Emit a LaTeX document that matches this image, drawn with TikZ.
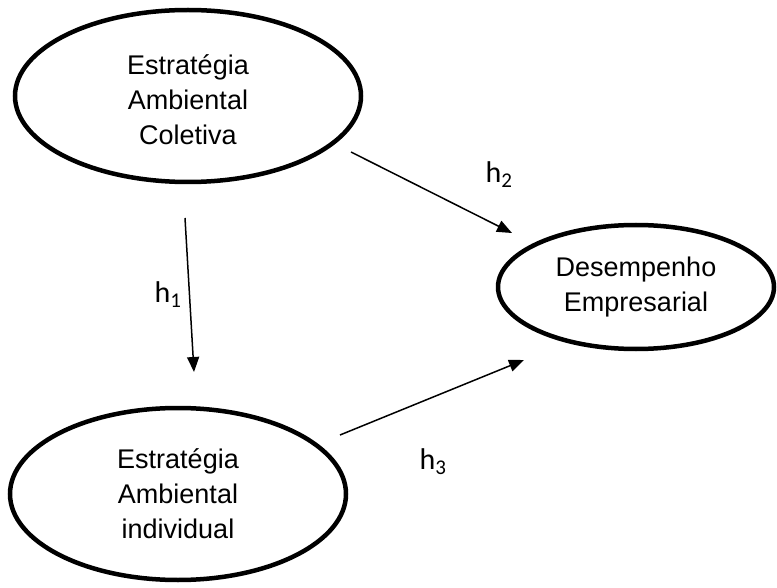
\documentclass[tikz,border=0pt]{standalone}
\usepackage{fontspec}
\setmainfont{Liberation Sans}
\newfontfamily\hfont{Carlito}
\usetikzlibrary{shapes.geometric, arrows.meta, positioning}

\tikzset{
  construct/.style={draw, ellipse, line width=4.5pt, align=center, inner sep=0pt,
    font=\fontsize{27}{35}\selectfont},
  path/.style={line width=1.5pt, -{Triangle[length=15pt, width=12pt]}},
  hyp/.style={font=\hfont\fontsize{30}{32}\selectfont}
}

\begin{document}
\begin{tikzpicture}[x=1pt, y=-1pt]
        \useasboundingbox (0,0) rectangle (777,588);

        % constructs
        \node[construct, minimum width=346pt, minimum height=172pt] (eac) at (188, 96) {\\[-8pt]Estratégia\\Ambiental\\Coletiva};
        \node[construct, minimum width=276pt, minimum height=124pt] (de) at (636, 287) {Desempenho\\Empresarial};
        \node[construct, minimum width=336pt, minimum height=172pt] (eai) at (178, 494) {Estratégia\\Ambiental\\individual};

        % arrow ends
        \coordinate (h1s) at (185, 218);
        \coordinate (h1e) at (194, 372);
        \coordinate (h2s) at (351, 152);
        \coordinate (h2e) at (512, 233);
        \coordinate (h3s) at (340, 435);
        \coordinate (h3e) at (524, 360);

        \draw[path] (h1s) -- (h1e);
        \draw[path] (h2s) -- (h2e);
        \draw[path] (h3s) -- (h3e);

        % hypotheses
        \node[hyp] (h1) at (168, 295) {h\textsubscript{1}};
        \node[hyp] (h2) at (499, 175) {h\textsubscript{2}};
        \node[hyp] (h3) at (433, 462) {h\textsubscript{3}};
\end{tikzpicture}
\end{document}
